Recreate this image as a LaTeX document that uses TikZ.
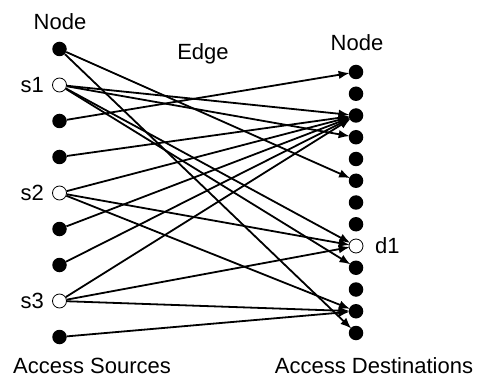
\documentclass[tikz,border=0pt]{standalone}
\usepackage{fontspec}
\setmainfont{Liberation Sans}
\usetikzlibrary{arrows.meta}
\tikzset{
  full/.style={circle, fill=black, inner sep=0pt, minimum size=14.5pt},
  hollow/.style={circle, draw=black, line width=0.8pt, fill=white, inner sep=0pt, minimum size=14pt},
  lbl/.style={font=\fontsize{22}{26}\selectfont, inner sep=0pt},
  edge/.style={line width=1.8pt, -{Latex[length=11pt,width=8.5pt]}, shorten >=-1pt},
}
\begin{document}
\begin{tikzpicture}[x=1pt,y=-1pt]
\useasboundingbox (0,0) rectangle (481,379);
% source column
\node[full]   (l0) at (59.5,49) {};
\node[hollow] (s1) at (59.5,85) {};
\node[full]   (l2) at (59.5,121) {};
\node[full]   (l3) at (59.5,157) {};
\node[hollow] (s2) at (59.5,193) {};
\node[full]   (l5) at (59.5,229) {};
\node[full]   (l6) at (59.5,265) {};
\node[hollow] (s3) at (59.5,301) {};
\node[full]   (l8) at (59.5,337) {};
% destination column
\foreach \i in {0,...,7,9,10,11,12}
  \node[full] (r\i) at (356,72+21.75*\i) {};
\node[hollow] (d1) at (356,246) {};
% labels
\node[lbl] (tn1) at (60,22) {Node};
\node[lbl] (te)  at (203,54) {Edge};
\node[lbl] (tn2) at (357,43) {Node};
\node[lbl, anchor=east] (ts1) at (44,85) {s1};
\node[lbl, anchor=east] (ts2) at (44,193) {s2};
\node[lbl, anchor=east] (ts3) at (44,301) {s3};
\node[lbl, anchor=west] (td1) at (375,246) {d1};
\node[lbl] (tas) at (92,366) {Access Sources};
\node[lbl] (tad) at (374,366) {Access Destinations};
% edges
\draw[edge] (l0) -- (r5);
\draw[edge] (l0) -- (r12);
\draw[edge] (s1) -- (r2);
\draw[edge] (s1) -- (r3);
\draw[edge] (s1) -- (d1);
\draw[edge] (s1) -- (r9);
\draw[edge] (l2) -- (r0);
\draw[edge] (l3) -- (r2);
\draw[edge] (s2) -- (r2);
\draw[edge] (s2) -- (d1);
\draw[edge] (s2) -- (r11);
\draw[edge] (l5) -- (r2);
\draw[edge] (l6) -- (r2);
\draw[edge] (s3) -- (r2);
\draw[edge] (s3) -- (d1);
\draw[edge] (s3) -- (r11);
\draw[edge] (l8) -- (r11);
\end{tikzpicture}
\end{document}
